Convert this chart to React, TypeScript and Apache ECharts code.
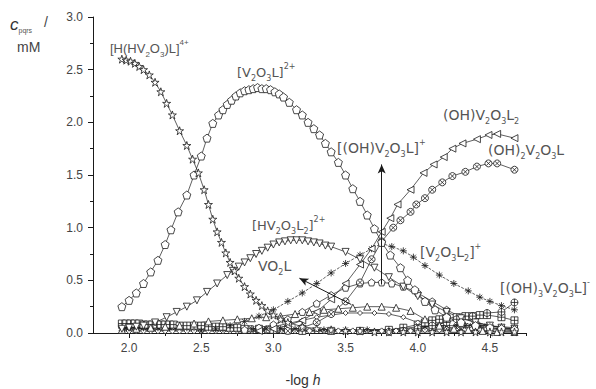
import React, { useEffect, useRef } from "react";
import * as echarts from "echarts";

// ---- data (x = -log h, y = c / mM) ----
const starHHV2O3L: number[][] = [
  [1.95, 2.6], [1.98, 2.59], [2.01, 2.58], [2.04, 2.56], [2.07, 2.53], [2.1, 2.5], [2.14, 2.45], [2.18, 2.38],
  [2.22, 2.29], [2.26, 2.18], [2.3, 2.07], [2.35, 1.92], [2.4, 1.78], [2.44, 1.65], [2.48, 1.52], [2.52, 1.36],
  [2.55, 1.22], [2.58, 1.08], [2.61, 0.96], [2.64, 0.86], [2.67, 0.76], [2.7, 0.67], [2.73, 0.59], [2.76, 0.52],
  [2.8, 0.44], [2.84, 0.37], [2.88, 0.31], [2.92, 0.26], [2.96, 0.21], [3.0, 0.17], [3.05, 0.13], [3.1, 0.1],
  [3.2, 0.06], [3.3, 0.04], [3.4, 0.03], [3.5, 0.02], [3.6, 0.02], [3.7, 0.01], [3.8, 0.01], [3.9, 0.01],
  [4.0, 0.01], [4.1, 0.01], [4.2, 0.01], [4.3, 0.01], [4.4, 0.01], [4.5, 0.01], [4.58, 0.01], [4.67, 0.01],
];
const circV2O3L: number[][] = [
  [1.95, 0.25], [2.0, 0.31], [2.05, 0.38], [2.1, 0.47], [2.15, 0.58], [2.2, 0.69], [2.25, 0.84], [2.29, 0.98],
  [2.34, 1.15], [2.4, 1.31], [2.45, 1.5], [2.5, 1.68], [2.54, 1.85], [2.58, 1.99], [2.62, 2.07], [2.65, 2.12],
  [2.68, 2.17], [2.71, 2.21], [2.74, 2.25], [2.77, 2.28], [2.8, 2.3], [2.83, 2.31], [2.86, 2.32], [2.89, 2.33],
  [2.92, 2.32], [2.95, 2.32], [2.98, 2.31], [3.01, 2.29], [3.04, 2.27], [3.07, 2.24], [3.11, 2.19], [3.16, 2.12],
  [3.2, 2.07], [3.24, 2.0], [3.28, 1.94], [3.32, 1.88], [3.36, 1.8], [3.4, 1.72], [3.45, 1.62], [3.5, 1.5],
  [3.55, 1.37], [3.6, 1.25], [3.65, 1.12], [3.7, 0.99], [3.75, 0.86], [3.81, 0.74], [3.88, 0.62], [3.93, 0.5],
  [3.98, 0.41], [4.05, 0.3], [4.12, 0.22], [4.2, 0.15], [4.3, 0.1], [4.4, 0.07], [4.5, 0.05], [4.58, 0.04],
  [4.67, 0.03],
];
const dtriHV2O3L2: number[][] = [
  [1.95, 0.04], [2.0, 0.05], [2.05, 0.06], [2.1, 0.07], [2.18, 0.1], [2.26, 0.15], [2.33, 0.2], [2.4, 0.25],
  [2.47, 0.31], [2.54, 0.39], [2.61, 0.47], [2.68, 0.55], [2.72, 0.59], [2.76, 0.63], [2.8, 0.67], [2.84, 0.71],
  [2.88, 0.75], [2.92, 0.78], [2.96, 0.81], [3.0, 0.84], [3.04, 0.86], [3.08, 0.87], [3.12, 0.88], [3.16, 0.88],
  [3.2, 0.88], [3.24, 0.87], [3.28, 0.86], [3.32, 0.85], [3.36, 0.83], [3.4, 0.82], [3.5, 0.77], [3.6, 0.7],
  [3.7, 0.62], [3.8, 0.53], [3.9, 0.44], [4.0, 0.35], [4.1, 0.27], [4.2, 0.2], [4.3, 0.14], [4.4, 0.1],
  [4.5, 0.07], [4.58, 0.05], [4.67, 0.04],
];
const triVO2L: number[][] = [
  [1.95, 0.03], [2.05, 0.04], [2.15, 0.05], [2.25, 0.06], [2.35, 0.07], [2.45, 0.09], [2.55, 0.11], [2.65, 0.12],
  [2.75, 0.13], [2.85, 0.14], [2.95, 0.15], [3.05, 0.16], [3.15, 0.18], [3.25, 0.2], [3.35, 0.22], [3.45, 0.23],
  [3.55, 0.24], [3.65, 0.25], [3.75, 0.25], [3.85, 0.24], [3.95, 0.21], [4.05, 0.13], [4.15, 0.07], [4.25, 0.04],
  [4.35, 0.03], [4.45, 0.02], [4.55, 0.01], [4.67, 0.01],
];
const circOHV2O3L: number[][] = [
  [2.8, 0.03], [2.9, 0.05], [3.0, 0.08], [3.1, 0.13], [3.2, 0.2], [3.3, 0.28], [3.4, 0.36], [3.5, 0.43],
  [3.6, 0.47], [3.68, 0.48], [3.75, 0.48], [3.82, 0.47], [3.9, 0.44], [4.0, 0.38], [4.1, 0.3], [4.2, 0.22],
  [4.3, 0.15], [4.4, 0.1], [4.5, 0.07], [4.58, 0.05], [4.67, 0.04],
];
const plusV2O3L2: number[][] = [
  [2.5, 0.02], [2.6, 0.04], [2.7, 0.07], [2.8, 0.11], [2.9, 0.16], [3.0, 0.22], [3.1, 0.3], [3.2, 0.38],
  [3.3, 0.47], [3.4, 0.57], [3.5, 0.66], [3.6, 0.74], [3.68, 0.8], [3.75, 0.85], [3.82, 0.82], [3.9, 0.78],
  [3.97, 0.72], [4.05, 0.64], [4.15, 0.55], [4.25, 0.47], [4.35, 0.4], [4.43, 0.34], [4.5, 0.3], [4.58, 0.26],
  [4.67, 0.22],
];
const ltriOHV2O3L2: number[][] = [
  [2.9, 0.02], [3.0, 0.04], [3.1, 0.07], [3.2, 0.12], [3.3, 0.2], [3.4, 0.32], [3.5, 0.47], [3.6, 0.65],
  [3.68, 0.8], [3.75, 0.96], [3.81, 1.09], [3.86, 1.22], [3.95, 1.36], [4.04, 1.52], [4.11, 1.6], [4.18, 1.67],
  [4.24, 1.75], [4.31, 1.8], [4.41, 1.84], [4.49, 1.88], [4.55, 1.89], [4.67, 1.85],
];
const oxOH2V2O3L: number[][] = [
  [3.1, 0.02], [3.2, 0.05], [3.3, 0.1], [3.4, 0.18], [3.5, 0.3], [3.6, 0.48], [3.68, 0.7], [3.75, 0.87],
  [3.83, 1.0], [3.88, 1.07], [3.95, 1.15], [3.99, 1.22], [4.05, 1.28], [4.1, 1.36], [4.17, 1.43], [4.24, 1.49],
  [4.33, 1.53], [4.41, 1.58], [4.49, 1.61], [4.55, 1.61], [4.67, 1.55],
];
const opOH3V2O3L: number[][] = [
  [3.8, 0.01], [3.9, 0.02], [4.0, 0.04], [4.1, 0.07], [4.2, 0.1], [4.27, 0.13], [4.38, 0.16], [4.48, 0.19],
  [4.58, 0.2], [4.67, 0.29],
];
const sqMinor: number[][] = [
  [1.95, 0.09], [1.98, 0.09], [2.01, 0.09], [2.04, 0.09], [2.07, 0.09], [2.1, 0.08], [2.13, 0.08], [2.16, 0.08],
  [2.19, 0.08], [2.22, 0.08], [2.25, 0.08], [2.28, 0.08], [2.31, 0.08], [2.35, 0.07], [2.4, 0.07], [2.45, 0.07],
  [2.5, 0.07], [2.55, 0.06], [2.6, 0.06], [2.65, 0.06], [2.7, 0.05], [2.75, 0.05], [2.8, 0.04], [2.9, 0.04],
  [3.0, 0.03], [3.1, 0.03], [3.2, 0.02], [3.4, 0.02], [3.6, 0.02], [3.8, 0.03], [3.9, 0.05], [4.0, 0.08],
  [4.05, 0.1], [4.1, 0.12], [4.15, 0.13], [4.2, 0.14], [4.27, 0.15], [4.33, 0.16], [4.38, 0.16], [4.43, 0.17],
  [4.48, 0.17], [4.58, 0.15], [4.67, 0.12],
];
const astMinor: number[][] = [
  [1.95, 0.05], [1.98, 0.05], [2.01, 0.05], [2.04, 0.05], [2.07, 0.05], [2.1, 0.05], [2.13, 0.05], [2.16, 0.05],
  [2.2, 0.05], [2.24, 0.05], [2.28, 0.05], [2.32, 0.05], [2.36, 0.05], [2.4, 0.05], [2.45, 0.05], [2.5, 0.05],
  [2.55, 0.05], [2.6, 0.05], [2.65, 0.04], [2.7, 0.04], [2.75, 0.04], [2.8, 0.04], [2.85, 0.04], [2.9, 0.04],
  [2.95, 0.04], [3.0, 0.04], [3.05, 0.04], [3.1, 0.04], [3.15, 0.04], [3.2, 0.04], [3.35, 0.03], [3.5, 0.03],
  [3.65, 0.03], [3.8, 0.03], [3.9, 0.04], [4.0, 0.06], [4.05, 0.06], [4.1, 0.07], [4.15, 0.07], [4.2, 0.07],
  [4.27, 0.07], [4.33, 0.07], [4.38, 0.07], [4.43, 0.07], [4.48, 0.07], [4.58, 0.06], [4.67, 0.05],
];
const diaMinor: number[][] = [
  [1.95, 0.02], [2.0, 0.02], [2.05, 0.02], [2.1, 0.02], [2.15, 0.02], [2.2, 0.02], [2.25, 0.02], [2.3, 0.02],
  [2.35, 0.02], [2.4, 0.02], [2.45, 0.02], [2.5, 0.02], [2.55, 0.02], [2.6, 0.02], [2.65, 0.02], [2.7, 0.02],
  [2.75, 0.02], [2.8, 0.02], [2.85, 0.02], [2.9, 0.02], [2.95, 0.02], [3.0, 0.02], [3.05, 0.02], [3.1, 0.02],
  [3.15, 0.02], [3.2, 0.02], [3.25, 0.02], [3.35, 0.02], [3.45, 0.02], [3.55, 0.02], [3.65, 0.02], [3.75, 0.02],
  [3.85, 0.02], [3.95, 0.02], [4.0, 0.03], [4.05, 0.03], [4.1, 0.03], [4.15, 0.03], [4.2, 0.03], [4.27, 0.03],
  [4.33, 0.03], [4.38, 0.03], [4.43, 0.03], [4.48, 0.03], [4.58, 0.03], [4.67, 0.02],
];
const rectMinor: number[][] = [
  [1.95, 0.07], [1.99, 0.07], [2.03, 0.07], [2.07, 0.07], [2.11, 0.06], [2.15, 0.06], [2.19, 0.06], [2.23, 0.06],
  [2.27, 0.06], [2.31, 0.06], [2.36, 0.06], [2.42, 0.06], [2.48, 0.06], [2.54, 0.06], [2.6, 0.05], [2.66, 0.05],
  [2.72, 0.05], [2.78, 0.04], [2.84, 0.04], [2.9, 0.03], [2.96, 0.03], [3.02, 0.03], [3.1, 0.02], [3.2, 0.02],
  [4.0, 0.04], [4.1, 0.05], [4.2, 0.05], [4.27, 0.05], [4.38, 0.05], [4.48, 0.05], [4.58, 0.04], [4.67, 0.04],
];
const hump2: number[][] = [
  [3.0, 0.06], [3.1, 0.09], [3.2, 0.12], [3.3, 0.15], [3.4, 0.17], [3.5, 0.19], [3.6, 0.19], [3.7, 0.19],
  [3.8, 0.18], [3.9, 0.15], [4.0, 0.1], [4.1, 0.06], [4.2, 0.04],
];

const xMajor = [2.0, 2.5, 3.0, 3.5, 4.0, 4.5];
const xMinor = [2.25, 2.75, 3.25, 3.75, 4.25, 4.75];

// ---- marker shapes ----
const SYM = {
  star: "path://M5,0 L6.2,3.6 L10,3.6 L6.9,5.8 L8.1,9.5 L5,7.2 L1.9,9.5 L3.1,5.8 L0,3.6 L3.8,3.6 Z",
  pent: "path://M5,0 L10,3.6 L8.1,9.5 L1.9,9.5 L0,3.6 Z",
  dtri: "path://M0,0 L10,0 L5,9 Z",
  utri: "path://M5,0 L10,9 L0,9 Z",
  ltri: "path://M10,0 L10,10 L1,5 Z",
  ox: "path://M5,0 A5,5 0 1,1 4.99,0 Z M1.5,1.5 L8.5,8.5 M8.5,1.5 L1.5,8.5",
  op: "path://M5,0 A5,5 0 1,1 4.99,0 Z M5,0 L5,10 M0,5 L10,5",
  ast: "path://M5,0 L5,10 M0,5 L10,5 M1.5,1.5 L8.5,8.5 M8.5,1.5 L1.5,8.5",
  sq: "path://M0,0 L10,0 L10,10 L0,10 Z M5,0 L5,10 M0,5 L10,5",
  dia: "path://M5,0 L10,5 L5,10 L0,5 Z",
  rect: "path://M0,0 L10,0 L10,10 L0,10 Z M0,0 L10,10",
};

const INK = "#1a1a1a";

function mk(name: string, data: number[][], symbol: string, size: number, dashed = false) {
  return {
    name,
    type: "line",
    data,
    symbol,
    symbolSize: size,
    showAllSymbol: true,
    lineStyle: { color: INK, width: 0.7, type: dashed ? "dashed" : "solid" },
    itemStyle: { color: "#ffffff", borderColor: INK, borderWidth: 0.8 },
    z: 3,
  };
}

const LBL = "#555555";
function chem(x: number, y: number, text: string, size = 13, family = "Liberation Sans") {
  return {
    type: "text",
    x,
    y,
    style: {
      text,
      fill: LBL,
      font: `${size}px "${family}", sans-serif`,
      textVerticalAlign: "middle",
      rich: {
        n: { fontSize: size, lineHeight: 20, fill: LBL, fontFamily: family },
        b: { fontSize: 8, lineHeight: 7, verticalAlign: "bottom", fill: LBL, fontFamily: family },
        p: { fontSize: 8, lineHeight: 7, verticalAlign: "top", fill: LBL, fontFamily: family },
      },
    },
    z: 10,
  };
}
const G = "DejaVu Sans";

export default function App() {
  const ref = useRef<HTMLDivElement>(null);
  useEffect(() => {
    if (!ref.current) return;
    const chart = echarts.init(ref.current, null, { renderer: "svg" });
    const axisTxt = { color: "#444", fontSize: 12, fontFamily: "Liberation Sans, Arial, sans-serif" };
    chart.setOption({
      animation: false,
      backgroundColor: "#ffffff",
      grid: { left: 93, top: 17, right: 70, bottom: 56, containLabel: false },
      xAxis: [
        {
          type: "value",
          min: 1.75,
          max: 4.75,
          position: "bottom",
          axisLine: { show: true, onZero: false, lineStyle: { color: INK, width: 1 } },
          axisTick: { show: true, customValues: xMajor, length: 5, inside: false, lineStyle: { color: INK } },
          axisLabel: { ...axisTxt, customValues: xMajor, margin: 9, formatter: (v: number) => v.toFixed(1) },
          splitLine: { show: false },
        },
        {
          type: "value",
          min: 1.75,
          max: 4.75,
          position: "bottom",
          axisLine: { show: false },
          axisTick: { show: true, customValues: xMinor, length: 3, lineStyle: { color: INK } },
          axisLabel: { show: false },
          splitLine: { show: false },
        },
      ],
      yAxis: {
        type: "value",
        min: 0,
        max: 3,
        interval: 0.5,
        axisLine: { show: true, lineStyle: { color: INK, width: 1 } },
        axisTick: { show: true, length: 5, lineStyle: { color: INK } },
        minorTick: { show: true, splitNumber: 2, length: 3, lineStyle: { color: INK } },
        axisLabel: { ...axisTxt, margin: 10, formatter: (v: number) => v.toFixed(1) },
        splitLine: { show: false },
      },
      series: [
        mk("diaMinor", diaMinor, SYM.dia, 6),
        mk("rectMinor", rectMinor, SYM.rect, 6),
        mk("astMinor", astMinor, SYM.ast, 7),
        mk("sqMinor", sqMinor, SYM.sq, 7),
        mk("hump2", hump2, SYM.dia, 5),
        mk("VO2L", triVO2L, SYM.utri, 7),
        mk("[(OH)V2O3L]+", circOHV2O3L, SYM.pent, 7),
        {
          ...mk("arrows", [], "none", 0),
          markLine: {
            silent: true,
            symbol: ["none", "arrow"],
            symbolSize: [6, 9],
            lineStyle: { color: INK, width: 1, type: "solid" },
            label: { show: false },
            data: [
              [{ coord: [3.75, 0.46] }, { coord: [3.75, 1.6] }],
              [{ coord: [3.54, 0.27] }, { coord: [3.18, 0.52] }],
            ],
          },
        },
        mk("[(OH)3V2O3L]-", opOH3V2O3L, SYM.op, 7),
        mk("[V2O3L2]+", plusV2O3L2, SYM.ast, 7, true),
        mk("(OH)2V2O3L", oxOH2V2O3L, SYM.ox, 7),
        mk("(OH)V2O3L2", ltriOHV2O3L2, SYM.ltri, 7),
        mk("[HV2O3L2]2+", dtriHV2O3L2, SYM.dtri, 7),
        mk("[V2O3L]2+", circV2O3L, SYM.pent, 8),
        mk("[H(HV2O3)L]4+", starHHV2O3L, SYM.star, 8),
      ],
      graphic: [
        {
          type: "text",
          x: 10,
          y: 24,
          style: {
            text: "{c|c}{s|pqrs}{n| /}",
            textVerticalAlign: "middle",
            rich: {
              c: { fontSize: 17, fontStyle: "italic", fill: "#333", fontFamily: "Liberation Sans", lineHeight: 20 },
              s: { fontSize: 7, fill: "#555", verticalAlign: "bottom", lineHeight: 6, fontFamily: "Liberation Sans" },
              n: { fontSize: 14, fill: "#444", fontFamily: "Liberation Sans", lineHeight: 20, padding: [0, 0, 4, 8] },
            },
          },
        },
        {
          type: "text",
          x: 17,
          y: 47,
          style: { text: "mM", fill: "#444", font: '14px "Liberation Sans", Arial', textVerticalAlign: "middle" },
        },
        {
          type: "text",
          x: 303,
          y: 380,
          style: {
            text: "{n|-log }{i|h}",
            textAlign: "center",
            textVerticalAlign: "middle",
            rich: {
              n: { fontSize: 14, fill: "#333", fontFamily: "Liberation Sans" },
              i: { fontSize: 14, fill: "#333", fontStyle: "italic", fontFamily: "Liberation Sans" },
            },
          },
        },
        chem(110, 48, "{n|[H(HV}{b|2}{n|O}{b|3}{n|)L]}{p|4+}"),
        chem(237, 72, "{n|[V}{b|2}{n|O}{b|3}{n|L]}{p|2+}", 13, G),
        chem(443, 115, "{n|(OH)V}{b|2}{n|O}{b|3}{n|L}{b|2}", 14, G),
        chem(488, 150, "{n|(OH)}{b|2}{n|V}{b|2}{n|O}{b|3}{n|L}", 14, G),
        chem(337, 148, "{n|[(OH)V}{b|2}{n|O}{b|3}{n|L]}{p|+}", 14, G),
        chem(252, 225, "{n|[HV}{b|2}{n|O}{b|3}{n|L}{b|2}{n|]}{p|2+}", 13, G),
        chem(258, 266, "{n|VO}{b|2}{n|L}", 14, G),
        chem(420, 252, "{n|[V}{b|2}{n|O}{b|3}{n|L}{b|2}{n|]}{p|+}", 14, G),
        chem(500, 288, "{n|[(OH)}{b|3}{n|V}{b|2}{n|O}{b|3}{n|L]}{p|-}", 14, G),
      ],
    });
    return () => chart.dispose();
  }, []);
  return <div ref={ref} style={{ width: 596, height: 389, position: "absolute", left: 0, top: 0 }} />;
}
